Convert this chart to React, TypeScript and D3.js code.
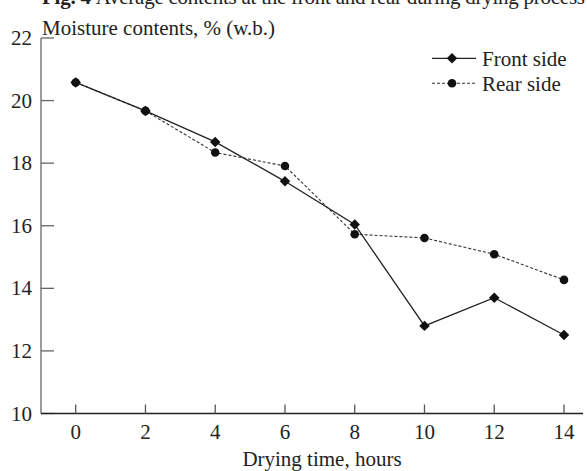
import React, { useRef, useEffect } from "react";
import * as d3 from "d3";

const hours = [0, 2, 4, 6, 8, 10, 12, 14];
const frontSide = [20.58, 19.67, 18.68, 17.42, 16.04, 12.8, 13.7, 12.51];
const rearSide = [20.58, 19.67, 18.34, 17.91, 15.73, 15.61, 15.09, 14.27];
const yTicks = [10, 12, 14, 16, 18, 20, 22];
const seriesNames = ["Front side", "Rear side"];

const FONT = "'Liberation Serif', 'Times New Roman', serif";

const App: React.FC = () => {
  const svgRef = useRef<SVGSVGElement | null>(null);

  useEffect(() => {
    const width = 587;
    const height = 471;
    const svg = d3.select(svgRef.current);
    svg.selectAll("*").remove();

    const x = d3.scaleLinear().domain([0, 14]).range([75.7, 564]);
    const y = d3.scaleLinear().domain([10, 22]).range([413.5, 38]);
    const axisLeftX = 41;
    const axisRightX = 583;

    // caption, cut off at the top edge like the scan
    const cap = svg.append("text")
      .attr("x", 42)
      .attr("y", 4)
      .attr("textLength", 543)
      .attr("lengthAdjust", "spacing")
      .style("font-family", FONT)
      .style("font-size", "21px")
      .attr("fill", "#222");
    cap.append("tspan").attr("font-weight", "bold").text("Fig. 4 ");
    cap.append("tspan").text("Average contents at the front and rear during drying process");

    // y axis
    svg.append("line")
      .attr("x1", axisLeftX).attr("x2", axisLeftX)
      .attr("y1", y(22)).attr("y2", y(10))
      .attr("stroke", "#666").attr("stroke-width", 1.3);
    svg.selectAll(".ytick")
      .data(yTicks)
      .join("line")
      .attr("x1", axisLeftX).attr("x2", axisLeftX + 13)
      .attr("y1", (d) => y(d)).attr("y2", (d) => y(d))
      .attr("stroke", "#666").attr("stroke-width", 1.3);
    svg.selectAll(".ylab")
      .data(yTicks)
      .join("text")
      .attr("x", 32)
      .attr("y", (d) => y(d) + 7)
      .attr("text-anchor", "end")
      .style("font-family", FONT)
      .style("font-size", "21px")
      .attr("fill", "#222")
      .text((d) => d);

    // x axis
    svg.append("line")
      .attr("x1", axisLeftX).attr("x2", axisRightX)
      .attr("y1", y(10)).attr("y2", y(10))
      .attr("stroke", "#222").attr("stroke-width", 1.4);
    svg.selectAll(".xtick")
      .data(hours)
      .join("line")
      .attr("x1", (d) => x(d)).attr("x2", (d) => x(d))
      .attr("y1", y(10)).attr("y2", y(10) - 9)
      .attr("stroke", "#555").attr("stroke-width", 1.3);
    svg.selectAll(".xlab")
      .data(hours)
      .join("text")
      .attr("x", (d) => x(d))
      .attr("y", 439)
      .attr("text-anchor", "middle")
      .style("font-family", FONT)
      .style("font-size", "21px")
      .attr("fill", "#222")
      .text((d) => d);

    // axis titles
    svg.append("text")
      .attr("x", 42).attr("y", 35)
      .style("font-family", FONT)
      .style("font-size", "21px")
      .attr("fill", "#222")
      .text("Moisture contents, % (w.b.)");
    svg.append("text")
      .attr("x", 322).attr("y", 466)
      .attr("text-anchor", "middle")
      .style("font-family", FONT)
      .style("font-size", "21px")
      .attr("fill", "#222")
      .text("Drying time, hours");

    const line = d3.line<[number, number]>()
      .x((d) => x(d[0]))
      .y((d) => y(d[1]));

    const frontPts = hours.map((h, i) => [h, frontSide[i]] as [number, number]);
    const rearPts = hours.map((h, i) => [h, rearSide[i]] as [number, number]);

    svg.append("path")
      .attr("d", line(rearPts))
      .attr("fill", "none")
      .attr("stroke", "#333")
      .attr("stroke-width", 1.1)
      .attr("stroke-dasharray", "3,2");
    svg.append("path")
      .attr("d", line(frontPts))
      .attr("fill", "none")
      .attr("stroke", "#222")
      .attr("stroke-width", 1.3);

    const diamond = d3.symbol().type(d3.symbolDiamond2).size(70);

    svg.selectAll(".rearpt")
      .data(rearPts)
      .join("circle")
      .attr("cx", (d) => x(d[0]))
      .attr("cy", (d) => y(d[1]))
      .attr("r", 4.3)
      .attr("fill", "#111");
    svg.selectAll(".frontpt")
      .data(frontPts)
      .join("path")
      .attr("d", diamond)
      .attr("transform", (d) => `translate(${x(d[0])},${y(d[1])})`)
      .attr("fill", "#111");

    // legend
    const legend = svg.append("g");
    seriesNames.forEach((name, i) => {
      const ly = 58.3 + i * 25;
      legend.append("line")
        .attr("x1", 432).attr("x2", 476)
        .attr("y1", ly).attr("y2", ly)
        .attr("stroke", i === 0 ? "#222" : "#333")
        .attr("stroke-width", i === 0 ? 1.3 : 1.1)
        .attr("stroke-dasharray", i === 0 ? null : "3,2");
      if (i === 0) {
        legend.append("path")
          .attr("d", diamond)
          .attr("transform", `translate(452,${ly})`)
          .attr("fill", "#111");
      } else {
        legend.append("circle")
          .attr("cx", 452).attr("cy", ly).attr("r", 4.3)
          .attr("fill", "#111");
      }
      legend.append("text")
        .attr("x", 482).attr("y", ly + 7.5)
        .style("font-family", FONT)
        .style("font-size", "21px")
        .attr("fill", "#222")
        .text(name);
    });

    svg.attr("width", width).attr("height", height);
  }, []);

  return (
    <svg
      ref={svgRef}
      width={587}
      height={471}
      style={{ position: "absolute", left: 0, top: 0, background: "#fff" }}
    />
  );
};

export default App;
